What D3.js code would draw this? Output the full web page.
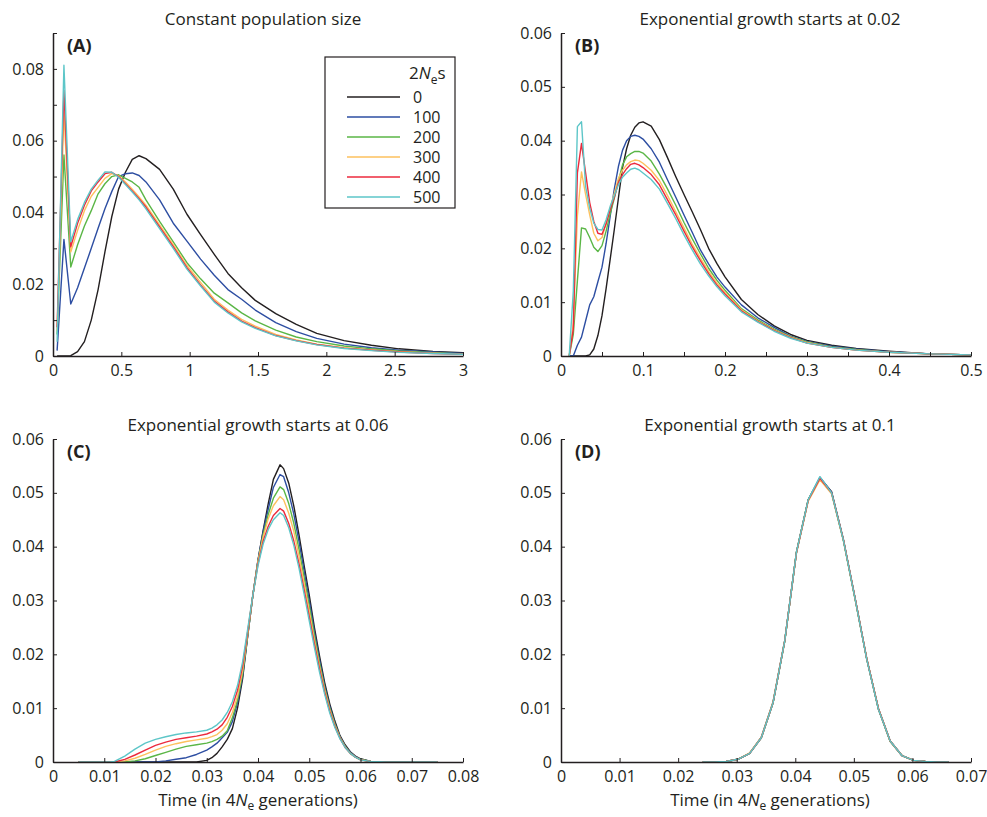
<!DOCTYPE html>
<html>
<head>
<meta charset="utf-8">
<script src="https://cdn.jsdelivr.net/npm/d3@7"></script>
<style>
  body { margin: 0; background: #fff; }
  svg { display: block; font-family: "Open Sans", "DejaVu Sans", sans-serif; }
</style>
</head>
<body>
<div id="chart"></div>
<script>
// 2Nes values shown in the legend
const selectionLabels = ["0", "100", "200", "300", "400", "500"];

// (A) constant population size
const timeA = [0.03, 0.08, 0.13, 0.18, 0.23, 0.28, 0.33, 0.38, 0.43, 0.48, 0.53, 0.58, 0.63, 0.68, 0.78, 0.88, 0.98, 1.08, 1.18, 1.28, 1.38, 1.48, 1.63, 1.78, 1.93, 2.13, 2.33, 2.53, 2.78, 3.0];
const a0   = [0, 0, 0.0001, 0.0012, 0.004, 0.010, 0.0185, 0.029, 0.0388, 0.0465, 0.0512, 0.0548, 0.0558, 0.055, 0.052, 0.0465, 0.0395, 0.0338, 0.0283, 0.023, 0.019, 0.0155, 0.0118, 0.0088, 0.0063, 0.0043, 0.003, 0.002, 0.0013, 0.0009];
const a100 = [0.0015, 0.0325, 0.0145, 0.019, 0.0245, 0.030, 0.0356, 0.041, 0.0458, 0.050, 0.0508, 0.051, 0.0503, 0.0485, 0.0435, 0.037, 0.032, 0.027, 0.0225, 0.0185, 0.0158, 0.0128, 0.0093, 0.0068, 0.0049, 0.0033, 0.0023, 0.0016, 0.0011, 0.0007];
const a200 = [0.006, 0.056, 0.0248, 0.031, 0.0362, 0.0405, 0.0452, 0.048, 0.050, 0.0505, 0.0495, 0.0485, 0.047, 0.0435, 0.0375, 0.0318, 0.026, 0.0215, 0.0175, 0.0148, 0.012, 0.0098, 0.0072, 0.0053, 0.004, 0.0028, 0.002, 0.0014, 0.0009, 0.0006];
const a300 = [0.007, 0.068, 0.029, 0.035, 0.0405, 0.0445, 0.047, 0.0495, 0.0508, 0.0502, 0.0485, 0.0465, 0.0443, 0.042, 0.0365, 0.031, 0.0252, 0.0205, 0.0158, 0.0128, 0.0102, 0.0083, 0.006, 0.0045, 0.0033, 0.0023, 0.0017, 0.0012, 0.0008, 0.0005];
const a400 = [0.008, 0.074, 0.0304, 0.037, 0.042, 0.046, 0.0485, 0.0508, 0.0512, 0.050, 0.048, 0.046, 0.0438, 0.0415, 0.036, 0.0305, 0.0246, 0.0198, 0.0153, 0.0123, 0.0097, 0.0079, 0.0057, 0.0043, 0.0032, 0.0022, 0.0016, 0.0011, 0.0007, 0.0005];
const a500 = [0.004, 0.081, 0.0318, 0.038, 0.0428, 0.0465, 0.049, 0.0513, 0.0512, 0.0498, 0.0478, 0.0457, 0.0435, 0.041, 0.0355, 0.030, 0.0242, 0.0195, 0.015, 0.012, 0.0095, 0.0077, 0.0056, 0.0042, 0.0031, 0.0021, 0.0015, 0.001, 0.0007, 0.0005];

// (B) exponential growth starts at 0.02
const timeB = [0.01, 0.015, 0.02, 0.025, 0.03, 0.035, 0.04, 0.045, 0.05, 0.055, 0.06, 0.065, 0.07, 0.075, 0.08, 0.085, 0.09, 0.095, 0.1, 0.11, 0.12, 0.13, 0.14, 0.15, 0.16, 0.17, 0.18, 0.19, 0.2, 0.22, 0.24, 0.26, 0.28, 0.3, 0.33, 0.36, 0.4, 0.45, 0.5];
const b0   = [0, 0, 0, 0, 0, 0.0002, 0.0013, 0.0038, 0.0075, 0.0125, 0.018, 0.0235, 0.0293, 0.035, 0.0385, 0.041, 0.0425, 0.0433, 0.0435, 0.0427, 0.0402, 0.0368, 0.0333, 0.030, 0.0268, 0.0235, 0.020, 0.0172, 0.0147, 0.0105, 0.0077, 0.0056, 0.004, 0.0029, 0.002, 0.0014, 0.0009, 0.0004, 0.0002];
const b100 = [0, 0, 0.002, 0.0035, 0.0065, 0.0095, 0.011, 0.0138, 0.0165, 0.0209, 0.026, 0.031, 0.0352, 0.0382, 0.040, 0.0408, 0.041, 0.0408, 0.0403, 0.0385, 0.036, 0.0327, 0.0295, 0.0262, 0.023, 0.0197, 0.0171, 0.0147, 0.0128, 0.0095, 0.0071, 0.0053, 0.0037, 0.0027, 0.0018, 0.0013, 0.0008, 0.0004, 0.0002];
const b200 = [0, 0.004, 0.014, 0.0238, 0.0236, 0.022, 0.0202, 0.0194, 0.0205, 0.0232, 0.0264, 0.0293, 0.0325, 0.0355, 0.037, 0.0376, 0.038, 0.038, 0.0377, 0.0362, 0.0338, 0.031, 0.028, 0.0248, 0.0218, 0.019, 0.0163, 0.0141, 0.0122, 0.0088, 0.0067, 0.005, 0.0036, 0.0026, 0.0017, 0.0012, 0.0007, 0.0004, 0.0002];
const b300 = [0, 0.006, 0.026, 0.0342, 0.030, 0.0262, 0.0228, 0.0214, 0.022, 0.0247, 0.0275, 0.0302, 0.033, 0.0345, 0.0355, 0.0361, 0.0364, 0.0363, 0.0358, 0.0345, 0.0326, 0.0298, 0.0268, 0.0238, 0.0208, 0.0182, 0.0157, 0.0136, 0.0118, 0.0086, 0.0065, 0.0048, 0.0035, 0.0025, 0.0016, 0.0011, 0.0007, 0.0004, 0.0002];
const b400 = [0, 0.005, 0.034, 0.0395, 0.034, 0.0285, 0.025, 0.0228, 0.0226, 0.0245, 0.0272, 0.0295, 0.0322, 0.0337, 0.0348, 0.0356, 0.0358, 0.0355, 0.035, 0.0337, 0.0318, 0.029, 0.0262, 0.0232, 0.0203, 0.0177, 0.0153, 0.0132, 0.0115, 0.0084, 0.0064, 0.0047, 0.0034, 0.0024, 0.0016, 0.0011, 0.0007, 0.0004, 0.0002];
const b500 = [0, 0.012, 0.0426, 0.0435, 0.0315, 0.0275, 0.0247, 0.0235, 0.0234, 0.0253, 0.0278, 0.0298, 0.0318, 0.0332, 0.034, 0.0347, 0.0349, 0.0346, 0.034, 0.0328, 0.031, 0.0283, 0.0255, 0.0225, 0.0197, 0.0171, 0.0149, 0.0129, 0.0112, 0.0082, 0.0063, 0.0046, 0.0033, 0.0024, 0.0016, 0.0011, 0.0007, 0.0004, 0.0002];

// (C) exponential growth starts at 0.06
const timeC = [0.005, 0.010, 0.011, 0.012, 0.014, 0.016, 0.018, 0.020, 0.022, 0.024, 0.026, 0.028, 0.030, 0.031, 0.032, 0.033, 0.034, 0.035, 0.036, 0.037, 0.038, 0.039, 0.040, 0.041, 0.042, 0.043, 0.0443, 0.045, 0.046, 0.047, 0.048, 0.049, 0.050, 0.051, 0.052, 0.053, 0.054, 0.055, 0.056, 0.057, 0.058, 0.059, 0.060, 0.062, 0.065, 0.075];
const c0   = [0, 0, 0, 0, 0, 0, 0, 0, 0, 0, 0, 0, 0.0003, 0.0008, 0.0016, 0.0028, 0.0042, 0.0062, 0.010, 0.0155, 0.0235, 0.031, 0.0375, 0.043, 0.048, 0.0525, 0.0552, 0.0545, 0.0518, 0.0475, 0.0422, 0.0365, 0.031, 0.025, 0.0197, 0.0148, 0.0108, 0.0076, 0.0049, 0.0032, 0.0019, 0.0011, 0.0006, 0.0001, 0, 0];
const c100 = [0, 0, 0, 0, 0, 0, 0, 0, 0.0002, 0.0005, 0.0008, 0.0014, 0.0022, 0.0028, 0.0035, 0.0045, 0.0055, 0.0075, 0.011, 0.016, 0.0235, 0.031, 0.0375, 0.0428, 0.047, 0.051, 0.0534, 0.053, 0.050, 0.046, 0.041, 0.0355, 0.030, 0.0242, 0.019, 0.0142, 0.0103, 0.0072, 0.0047, 0.003, 0.0018, 0.001, 0.0005, 0.0001, 0, 0];
const c200 = [0, 0, 0, 0, 0, 0.0002, 0.0006, 0.0012, 0.0018, 0.0024, 0.0029, 0.0032, 0.0035, 0.0038, 0.0042, 0.0048, 0.0058, 0.0082, 0.0115, 0.0164, 0.0236, 0.031, 0.0373, 0.0422, 0.046, 0.049, 0.0511, 0.0506, 0.048, 0.0443, 0.0395, 0.0343, 0.029, 0.0235, 0.0184, 0.0138, 0.010, 0.007, 0.0046, 0.0029, 0.0017, 0.0009, 0.0005, 0.0001, 0, 0];
const c300 = [0, 0, 0, 0, 0.0002, 0.0007, 0.0014, 0.0022, 0.0029, 0.0034, 0.0038, 0.0041, 0.0044, 0.0047, 0.0051, 0.0059, 0.0071, 0.0092, 0.0122, 0.017, 0.024, 0.031, 0.0372, 0.0418, 0.0452, 0.0476, 0.0493, 0.0487, 0.0462, 0.0428, 0.0382, 0.0332, 0.028, 0.0227, 0.0178, 0.0134, 0.0097, 0.0068, 0.0045, 0.0028, 0.0016, 0.0009, 0.0004, 0.0001, 0, 0];
const c400 = [0, 0, 0, 0, 0.0005, 0.0013, 0.0022, 0.0031, 0.0037, 0.0042, 0.0045, 0.0048, 0.0052, 0.0056, 0.0061, 0.0069, 0.0083, 0.0103, 0.0133, 0.0178, 0.0243, 0.031, 0.0368, 0.041, 0.0438, 0.0458, 0.0471, 0.0466, 0.0443, 0.041, 0.0368, 0.032, 0.027, 0.022, 0.0173, 0.013, 0.0094, 0.0066, 0.0044, 0.0027, 0.0016, 0.0009, 0.0004, 0.0001, 0, 0];
const c500 = [0, 0, 0, 0.0001, 0.0011, 0.0024, 0.0035, 0.0042, 0.0047, 0.0051, 0.0054, 0.0056, 0.0059, 0.0063, 0.0069, 0.0078, 0.0092, 0.0112, 0.0142, 0.0186, 0.0248, 0.031, 0.0365, 0.0405, 0.0432, 0.045, 0.0463, 0.0458, 0.0435, 0.0402, 0.036, 0.0312, 0.0262, 0.0213, 0.0167, 0.0126, 0.0091, 0.0064, 0.0043, 0.0027, 0.0016, 0.0009, 0.0004, 0.0001, 0, 0];

// (D) exponential growth starts at 0.1
const timeD = [0.0242, 0.0262, 0.0282, 0.0302, 0.0322, 0.0342, 0.0362, 0.0382, 0.0402, 0.0422, 0.0442, 0.0462, 0.0482, 0.0502, 0.0522, 0.0542, 0.0562, 0.0582, 0.0602, 0.0622, 0.0642, 0.0662];
const d0   = [0, 0, 0.0001, 0.0005, 0.0016, 0.0045, 0.011, 0.0225, 0.039, 0.0487, 0.0528, 0.0502, 0.0414, 0.0305, 0.0192, 0.0099, 0.0039, 0.0012, 0.0003, 0.0001, 0, 0];
const d100 = [0, 0, 0.0001, 0.0005, 0.0016, 0.0046, 0.0111, 0.0226, 0.0389, 0.0486, 0.0529, 0.0501, 0.0413, 0.0304, 0.0191, 0.0098, 0.0039, 0.0012, 0.0003, 0.0001, 0, 0];
const d200 = [0, 0, 0.0001, 0.0005, 0.0016, 0.0045, 0.011, 0.0224, 0.039, 0.0487, 0.0527, 0.0499, 0.0412, 0.0303, 0.0191, 0.0098, 0.0038, 0.0012, 0.0003, 0.0001, 0, 0];
const d300 = [0, 0, 0.0001, 0.0005, 0.0017, 0.0046, 0.0112, 0.0226, 0.0388, 0.0484, 0.0524, 0.0498, 0.0413, 0.0304, 0.0192, 0.0099, 0.0039, 0.0012, 0.0003, 0.0001, 0, 0];
const d400 = [0, 0, 0.0001, 0.0005, 0.0016, 0.0045, 0.011, 0.0225, 0.0389, 0.0486, 0.0527, 0.050, 0.0414, 0.0305, 0.0192, 0.0099, 0.0039, 0.0012, 0.0003, 0.0001, 0, 0];
const d500 = [0, 0, 0.0001, 0.0005, 0.0016, 0.0045, 0.011, 0.0225, 0.039, 0.0487, 0.053, 0.050, 0.0413, 0.0304, 0.0191, 0.0098, 0.0039, 0.0012, 0.0003, 0.0001, 0, 0];

const lineColors = ["#231f20", "#2d4ea2", "#5ab646", "#fdc15e", "#ec2a3d", "#5dc6c8"];
const axisColor = "#231f20";

const width = 987, height = 817;
const svg = d3.select("#chart").append("svg")
    .attr("width", width)
    .attr("height", height);

const fmt = d => String(+d.toFixed(4));

function drawPanel(p) {
    const x = d3.scaleLinear().domain(p.xDomain).range([p.left, p.right]);
    const y = d3.scaleLinear().domain(p.yDomain).range([p.bottom, p.top]);

    const g = svg.append("g");

    // curves
    const line = d3.line()
        .x((d, i) => x(p.time[i]))
        .y(d => y(d));

    p.series.forEach((s, i) => {
        g.append("path")
            .datum(s)
            .attr("d", line)
            .attr("fill", "none")
            .attr("stroke", lineColors[i])
            .attr("stroke-width", 1.4)
            .attr("stroke-linejoin", "round");
    });

    // axes, ticks pointing inward
    const xAxis = d3.axisBottom(x)
        .tickValues(p.xTicks)
        .tickFormat(d => p.xLabel(d) ? fmt(d) : "")
        .tickSizeInner(-4)
        .tickSizeOuter(0)
        .tickPadding(9);
    const yAxis = d3.axisLeft(y)
        .tickValues(p.yTicks)
        .tickFormat(d => p.yLabel(d) ? fmt(d) : "")
        .tickSizeInner(-4)
        .tickSizeOuter(0)
        .tickPadding(9);

    const gx = g.append("g").attr("transform", `translate(0,${p.bottom})`).call(xAxis);
    const gy = g.append("g").attr("transform", `translate(${p.left},0)`).call(yAxis);
    [gx, gy].forEach(a => {
        a.select(".domain").attr("stroke", axisColor).attr("stroke-width", 1.5);
        a.selectAll(".tick line").attr("stroke", axisColor).attr("stroke-width", 1);
        a.selectAll(".tick text")
            .attr("fill", axisColor)
            .style("font-size", "16px")
            .style("font-family", "'Open Sans', sans-serif");
    });

    // title
    g.append("text")
        .attr("x", (p.left + p.right) / 2 + p.titleShift)
        .attr("y", p.top - 8)
        .attr("text-anchor", "middle")
        .style("font-size", "17px")
        .attr("fill", axisColor)
        .text(p.title);

    // panel letter
    g.append("text")
        .attr("x", p.left + 14)
        .attr("y", p.top + 19)
        .style("font-size", "18px")
        .style("font-weight", "bold")
        .attr("fill", axisColor)
        .text(p.letter);

    if (p.xTitle) {
        const t = g.append("text")
            .attr("x", (p.left + p.right) / 2 + p.titleShift)
            .attr("y", p.bottom + 44)
            .attr("text-anchor", "middle")
            .style("font-size", "17px")
            .attr("fill", axisColor);
        t.append("tspan").text("Time (in 4");
        t.append("tspan").style("font-style", "italic").text("N");
        t.append("tspan").attr("dy", 4).style("font-size", "12px").text("e");
        t.append("tspan").attr("dy", -4).text(" generations)");
    }
    return { x, y, g };
}

const steps = (n, s) => d3.range(n + 1).map(i => +(i * s).toFixed(4));
const isMult = m => d => Math.abs(d / m - Math.round(d / m)) < 1e-6;

drawPanel({
    left: 53, right: 463, top: 33, bottom: 356,
    xDomain: [0, 3], yDomain: [0, 0.09],
    time: timeA, series: [a0, a100, a200, a300, a400, a500],
    xTicks: steps(6, 0.5), xLabel: () => true,
    yTicks: steps(9, 0.01), yLabel: d => isMult(0.02)(d) && d < 0.085,
    title: "Constant population size", titleShift: 5, letter: "(A)"
});

drawPanel({
    left: 561, right: 971, top: 33, bottom: 356,
    xDomain: [0, 0.5], yDomain: [0, 0.06],
    time: timeB, series: [b0, b100, b200, b300, b400, b500],
    xTicks: steps(10, 0.05), xLabel: isMult(0.1),
    yTicks: steps(6, 0.01), yLabel: () => true,
    title: "Exponential growth starts at 0.02", titleShift: 4, letter: "(B)"
});

drawPanel({
    left: 53, right: 463, top: 439, bottom: 762,
    xDomain: [0, 0.08], yDomain: [0, 0.06],
    time: timeC, series: [c0, c100, c200, c300, c400, c500],
    xTicks: steps(8, 0.01), xLabel: () => true,
    yTicks: steps(6, 0.01), yLabel: () => true,
    title: "Exponential growth  starts at 0.06", titleShift: 0, letter: "(C)",
    xTitle: true
});

drawPanel({
    left: 561, right: 971, top: 439, bottom: 762,
    xDomain: [0, 0.07], yDomain: [0, 0.06],
    time: timeD, series: [d0, d100, d200, d300, d400, d500],
    xTicks: steps(7, 0.01), xLabel: () => true,
    yTicks: steps(6, 0.01), yLabel: () => true,
    title: "Exponential growth starts at 0.1", titleShift: 4, letter: "(D)",
    xTitle: true
});

// legend in panel A
const legend = svg.append("g").attr("transform", "translate(325,57)");
legend.append("rect")
    .attr("width", 130)
    .attr("height", 151)
    .attr("fill", "#fff")
    .attr("stroke", axisColor)
    .attr("stroke-width", 1.2);

const lt = legend.append("text")
    .attr("x", 84)
    .attr("y", 22)
    .style("font-size", "17px")
    .attr("fill", axisColor);
lt.append("tspan").text("2");
lt.append("tspan").style("font-style", "italic").text("N");
lt.append("tspan").attr("dy", 5).style("font-size", "12px").text("e");
lt.append("tspan").attr("dy", -5).text("s");

const rows = legend.selectAll(".row")
    .data(selectionLabels)
    .enter().append("g")
    .attr("class", "row")
    .attr("transform", (d, i) => `translate(0,${40 + i * 20})`);

rows.append("line")
    .attr("x1", 22).attr("x2", 75)
    .attr("stroke", (d, i) => lineColors[i])
    .attr("stroke-width", 1.5);

rows.append("text")
    .attr("x", 88)
    .attr("y", 5.5)
    .style("font-size", "16px")
    .attr("fill", axisColor)
    .text(d => d);
</script>
</body>
</html>
